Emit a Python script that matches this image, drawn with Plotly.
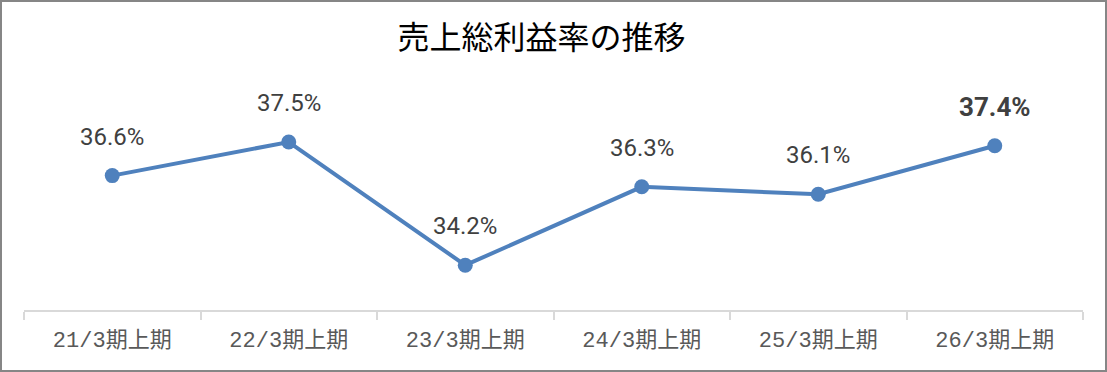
import plotly.graph_objects as go

categories = ["21/3期上期", "22/3期上期", "23/3期上期", "24/3期上期", "25/3期上期", "26/3期上期"]
values = [36.6, 37.5, 34.2, 36.3, 36.1, 37.4]
labels = ["36.6%", "37.5%", "34.2%", "36.3%", "36.1%", "<b>37.4%</b>"]
title = "売上総利益率の推移"

W, H = 1107, 372
ml, mr, mt, mb = 24, 24, 86, 62

fig = go.Figure()
fig.add_trace(go.Scatter(
    x=categories, y=values, mode="lines+markers",
    line=dict(color="#4f81bd", width=4),
    marker=dict(color="#4f81bd", size=15),
    hoverinfo="skip",
))

for c, v, t in zip(categories, values, labels):
    bold = "<b>" in t
    fig.add_annotation(x=c, y=v, text=t, showarrow=False, yshift=39,
                       font=dict(family="Roboto, Noto Sans CJK JP", size=26 if bold else 24,
                                 color="#404040"))

pw = W - ml - mr
ph = H - mt - mb
fig.add_shape(type="rect", xref="paper", yref="paper",
              x0=-(ml - 1) / pw, x1=1 + (mr - 1) / pw,
              y0=-(mb - 1) / ph, y1=1 + (mt - 1) / ph,
              line=dict(color="#868686", width=2), layer="above")

fig.update_layout(
    width=W, height=H,
    margin=dict(l=ml, r=mr, t=mt, b=mb),
    paper_bgcolor="white", plot_bgcolor="white",
    showlegend=False,
    title=dict(text=title, xref="container", x=541.5 / W, xanchor="center",
               y=1 - 38 / H, yanchor="middle",
               font=dict(family="Noto Sans CJK JP", size=32, color="#000000")),
    xaxis=dict(type="category", showgrid=False, showline=True, linecolor="#d9d9d9", linewidth=1.5,
               ticks="outside", tickson="boundaries", ticklen=8, tickcolor="#d9d9d9", tickwidth=1.5,
               ticklabelstandoff=9,
               tickfont=dict(family="Liberation Mono, Noto Sans CJK JP", size=22, color="#595959"),
               range=[-0.5, 5.5], fixedrange=True),
    yaxis=dict(range=[33, 39], visible=False, fixedrange=True),
)

fig.write_html("out.html")
